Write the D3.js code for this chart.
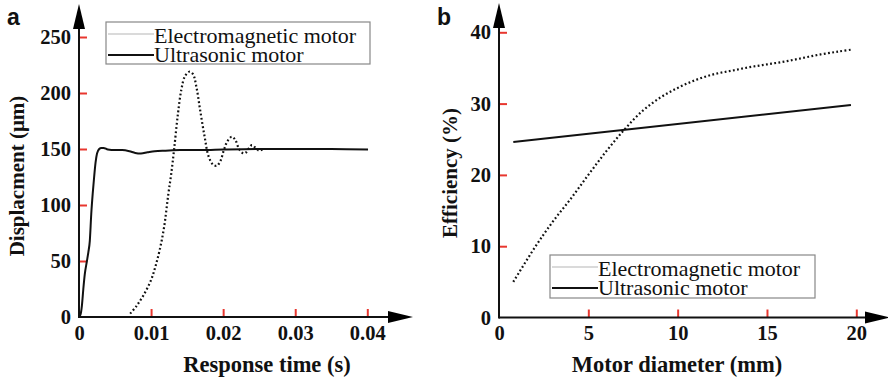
<!DOCTYPE html>
<html>
<head>
<meta charset="utf-8">
<script src="https://cdn.jsdelivr.net/npm/d3@7"></script>
<style>
  html, body { margin: 0; padding: 0; background: #fff; }
  svg { display: block; }
</style>
</head>
<body>
<svg width="888" height="380"></svg>
<script>
// panel a: step response
const timeUltra = [0, 0.0002, 0.0004, 0.0006, 0.0008, 0.0011, 0.0013, 0.0015, 0.0017, 0.0019, 0.0021, 0.0023, 0.0025, 0.0028, 0.0031, 0.0034, 0.0040, 0.0050, 0.0060, 0.0070, 0.0078, 0.0086, 0.0095, 0.0105, 0.0120, 0.0140, 0.0170, 0.0200, 0.0250, 0.0300, 0.0350, 0.0401];
const dispUltra = [0, 2, 10, 25, 38, 50, 58, 68, 92, 110, 125, 138, 146, 150, 151, 151, 149.5, 149, 149, 148, 146.5, 146, 147, 148, 148.5, 149, 149, 149.5, 150, 150, 150, 149.5];

const timeEM = [0.0071, 0.0080, 0.0090, 0.0100, 0.0106, 0.0112, 0.0118, 0.0124, 0.0128, 0.0132, 0.0137, 0.0142, 0.0147, 0.0153, 0.0158, 0.0163, 0.0168, 0.0174, 0.0180, 0.0186, 0.0191, 0.0196, 0.0201, 0.0206, 0.0212, 0.0217, 0.0222, 0.0227, 0.0231, 0.0236, 0.0240, 0.0245, 0.0250, 0.0255];
const dispEM = [3, 10, 20, 33, 45, 60, 80, 110, 128, 150, 180, 203, 215, 219, 217, 205, 185, 162, 143, 136, 135, 139, 149, 157, 161, 158, 150, 146.5, 146.5, 151, 153.5, 151, 148.5, 150];

const timeTicks = [0, 0.01, 0.02, 0.03, 0.04];
const dispTicks = [0, 50, 100, 150, 200, 250];

// panel b: efficiency vs diameter
const diamUltra = [0.8, 19.7];
const effUltra = [24.6, 29.8];

const diamEM = [0.8, 2, 3, 4, 5, 6, 7, 8, 9, 10, 11, 12, 13, 14, 15, 16, 17, 18, 19, 19.8];
const effEM = [5.0, 9.8, 13.4, 16.6, 20.0, 23.3, 26.3, 28.9, 30.8, 32.2, 33.3, 34.1, 34.6, 35.1, 35.5, 35.9, 36.4, 36.9, 37.3, 37.6];

const diamTicks = [0, 5, 10, 15, 20];
const effTicks = [0, 10, 20, 30, 40];

const seriesNames = ['Electromagnetic motor', 'Ultrasonic motor'];

const SERIF = '"Liberation Serif", "Times New Roman", serif';
const SANS = '"Liberation Sans", Arial, sans-serif';
const TICK_RED = '#e8372f';

const svg = d3.select('svg');

function zip(xs, ys) {
  return xs.map((x, i) => ({ x, y: ys[i] }));
}

function heavy(sel, size) {
  return sel
    .style('font-family', SERIF)
    .style('font-weight', 'bold')
    .style('font-size', size + 'px')
    .attr('fill', '#111');
}

function drawPanel(opts) {
  const { x, y, xTicks, yTicks, xFmt, xEnd, yTop, xTitle, yTitle, titleX, titleY, letter, letterX } = opts;
  const g = svg.append('g');

  const xAxis = d3.axisBottom(x).tickValues(xTicks).tickSize(-8).tickPadding(8).tickFormat(xFmt);
  const yAxis = d3.axisLeft(y).tickValues(yTicks).tickSize(-8).tickPadding(8);

  const gx = g.append('g').attr('transform', `translate(0,${y(0)})`).call(xAxis);
  const gy = g.append('g').attr('transform', `translate(${x(0)},0)`).call(yAxis);

  [gx, gy].forEach(a => {
    a.select('.domain').remove();
    a.selectAll('.tick line').attr('stroke', TICK_RED).attr('stroke-width', 2);
    heavy(a.selectAll('.tick text'), 20.5);
  });
  gx.selectAll('.tick').filter(d => d === 0).select('line').remove();
  gy.selectAll('.tick').filter(d => d === 0).select('line').remove();

  // axes with arrows
  const x0 = x(0), y0 = y(0);
  g.append('line').attr('x1', x0).attr('x2', xEnd - 20).attr('y1', y0).attr('y2', y0)
    .attr('stroke', '#111').attr('stroke-width', 2);
  g.append('line').attr('x1', x0).attr('x2', x0).attr('y1', y0 + 1).attr('y2', yTop + 20)
    .attr('stroke', '#111').attr('stroke-width', 2);
  g.append('path')
    .attr('d', `M${xEnd},${y0} L${xEnd - 25},${y0 - 6} L${xEnd - 25},${y0 + 6} Z`)
    .attr('fill', '#000');
  g.append('path')
    .attr('d', `M${x0},${yTop} L${x0 - 6},${yTop + 25} L${x0 + 6},${yTop + 25} Z`)
    .attr('fill', '#000');

  // axis titles
  heavy(g.append('text')
    .attr('x', titleX).attr('y', 372)
    .attr('text-anchor', 'middle'), 22.5)
    .text(xTitle);
  heavy(g.append('text')
    .attr('transform', `translate(${titleY.x},${titleY.y}) rotate(-90)`)
    .attr('text-anchor', 'middle'), 21)
    .text(yTitle);

  g.append('text')
    .attr('x', letterX).attr('y', 25)
    .style('font-family', SANS).style('font-weight', 'bold').style('font-size', '23px')
    .attr('fill', '#111')
    .text(letter);

  return g;
}

function drawLegend(g, lx, ly, w, h) {
  const lg = g.append('g').attr('transform', `translate(${lx},${ly})`);
  lg.append('rect').attr('width', w).attr('height', h)
    .attr('fill', '#fff').attr('stroke', '#888').attr('stroke-width', 1.2);
  const rows = [
    { name: seriesNames[0], stroke: '#b5b5b5', width: 1, by: 20.5, ly: 12 },
    { name: seriesNames[1], stroke: '#111', width: 2, by: 39.5, ly: 33 }
  ];
  rows.forEach(r => {
    lg.append('line').attr('x1', 2).attr('x2', 48).attr('y1', r.ly).attr('y2', r.ly)
      .attr('stroke', r.stroke).attr('stroke-width', r.width);
    lg.append('text').attr('x', 48).attr('y', r.by)
      .style('font-family', SERIF).style('font-size', '22px')
      .attr('fill', '#111')
      .text(r.name);
  });
}

// ---- panel a
const xa = d3.scaleLinear().domain([0, 0.04]).range([79, 367.3]);
const ya = d3.scaleLinear().domain([0, 250]).range([317, 37]);

const ga = drawPanel({
  x: xa, y: ya, xTicks: timeTicks, yTicks: dispTicks,
  xFmt: d => d === 0 ? '0' : d.toFixed(2),
  xEnd: 413, yTop: 4,
  xTitle: 'Response time (s)', yTitle: 'Displacment (\u03bcm)',
  titleX: 267, titleY: { x: 24, y: 176 },
  letter: 'a', letterX: 7
});

ga.append('path')
  .datum(zip(timeEM, dispEM))
  .attr('d', d3.line().x(p => xa(p.x)).y(p => ya(p.y)).curve(d3.curveCatmullRom))
  .attr('fill', 'none').attr('stroke', '#111').attr('stroke-width', 2.2)
  .attr('stroke-dasharray', '1.8,2.4');
ga.append('path')
  .datum(zip(timeUltra, dispUltra))
  .attr('d', d3.line().x(p => xa(p.x)).y(p => ya(p.y)).curve(d3.curveMonotoneX))
  .attr('fill', 'none').attr('stroke', '#111').attr('stroke-width', 2);

drawLegend(ga, 106, 22, 264, 42);

// ---- panel b
const xb = d3.scaleLinear().domain([0, 20]).range([499, 856.3]);
const yb = d3.scaleLinear().domain([0, 40]).range([317.5, 32.3]);

const gb = drawPanel({
  x: xb, y: yb, xTicks: diamTicks, yTicks: effTicks,
  xFmt: d3.format('d'),
  xEnd: 890, yTop: 3,
  xTitle: 'Motor diameter (mm)', yTitle: 'Efficiency (%)',
  titleX: 677, titleY: { x: 457, y: 173 },
  letter: 'b', letterX: 437
});

gb.append('path')
  .datum(zip(diamEM, effEM))
  .attr('d', d3.line().x(p => xb(p.x)).y(p => yb(p.y)).curve(d3.curveCatmullRom))
  .attr('fill', 'none').attr('stroke', '#111').attr('stroke-width', 2.2)
  .attr('stroke-dasharray', '1.8,2.4');
gb.append('path')
  .datum(zip(diamUltra, effUltra))
  .attr('d', d3.line().x(p => xb(p.x)).y(p => yb(p.y)))
  .attr('fill', 'none').attr('stroke', '#111').attr('stroke-width', 2);

drawLegend(gb, 550, 255, 265, 43);
</script>
</body>
</html>
